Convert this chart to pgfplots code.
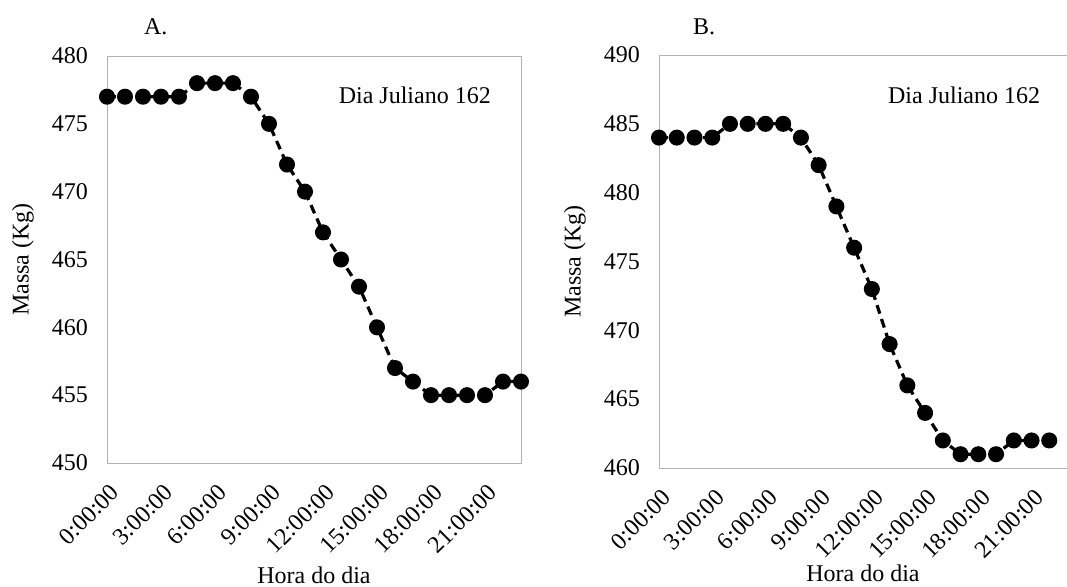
\documentclass[border=0pt]{standalone}
\usepackage{fontspec}
\setmainfont{Liberation Serif}
\usepackage{pgfplots}
\pgfplotsset{compat=1.18}

\pgfplotsset{
  painel/.style={
    scale only axis,
    xmin=0, xmax=23,
    axis line style={gray!60},
    major tick length=0pt,
    xtick={0,3,...,21},
    xticklabels={0:00:00,3:00:00,6:00:00,9:00:00,12:00:00,15:00:00,18:00:00,21:00:00},
    xticklabel style={xshift=1pt, yshift=-5pt, rotate=45, anchor=north east, font=\fontsize{12}{14}\selectfont},
    yticklabel style={xshift=-6pt, font=\fontsize{12}{14}\selectfont},
    /pgf/number format/assume math mode=true,
    ytick distance=5,
    xlabel={Hora do dia},
    ylabel={Massa (Kg)},
    every axis x label/.style={at={(rel axis cs:0.5,0)}, yshift=-56pt, anchor=center, font=\fontsize{12}{14}\selectfont},
    every axis y label/.style={at={(rel axis cs:0,0.5)}, xshift=-42pt, rotate=90, anchor=center, font=\fontsize{12}{14}\selectfont},
    clip=false,
  },
  serie/.style={black, line width=1.6pt, dash pattern=on 4.5pt off 2.8pt,
    mark=*, mark size=3.2pt, mark options={solid}},
}

\begin{document}
\begin{tikzpicture}
\useasboundingbox (0,0) rectangle (533.5pt,-293.5pt);

% painel A
\begin{axis}[painel, at={(53.5pt,-231.5pt)}, anchor=south west,
  width=207pt, height=203.5pt, ymin=450, ymax=480]
  \addplot[serie] coordinates {
    (0,477)(1,477)(2,477)(3,477)(4,477)(5,478)(6,478)(7,478)
    (8,477)(9,475)(10,472)(11,470)(12,467)(13,465)(14,463)(15,460)
    (16,457)(17,456)(18,455)(19,455)(20,455)(21,455)(22,456)(23,456)};
  \node[font=\fontsize{12}{14}\selectfont] at (axis cs:17.1,477.1) {Dia Juliano 162};
\end{axis}

% painel B
\begin{axis}[painel, at={(329.5pt,-234pt)}, anchor=south west,
  width=204pt, height=206.5pt, ymin=460, ymax=490,
  every axis x label/.append style={yshift=3.5pt}]
  \addplot[serie] coordinates {
    (0,484)(1,484)(2,484)(3,484)(4,485)(5,485)(6,485)(7,485)
    (8,484)(9,482)(10,479)(11,476)(12,473)(13,469)(14,466)(15,464)
    (16,462)(17,461)(18,461)(19,461)(20,462)(21,462)(22,462)};
  \node[font=\fontsize{12}{14}\selectfont] at (axis cs:17.2,487.1) {Dia Juliano 162};
\end{axis}

\node[font=\fontsize{12}{14}\selectfont, anchor=west] at (68.5pt,-13.5pt) {A.};
\node[font=\fontsize{12}{14}\selectfont, anchor=west] at (343pt,-13.5pt) {B.};
\end{tikzpicture}
\end{document}
